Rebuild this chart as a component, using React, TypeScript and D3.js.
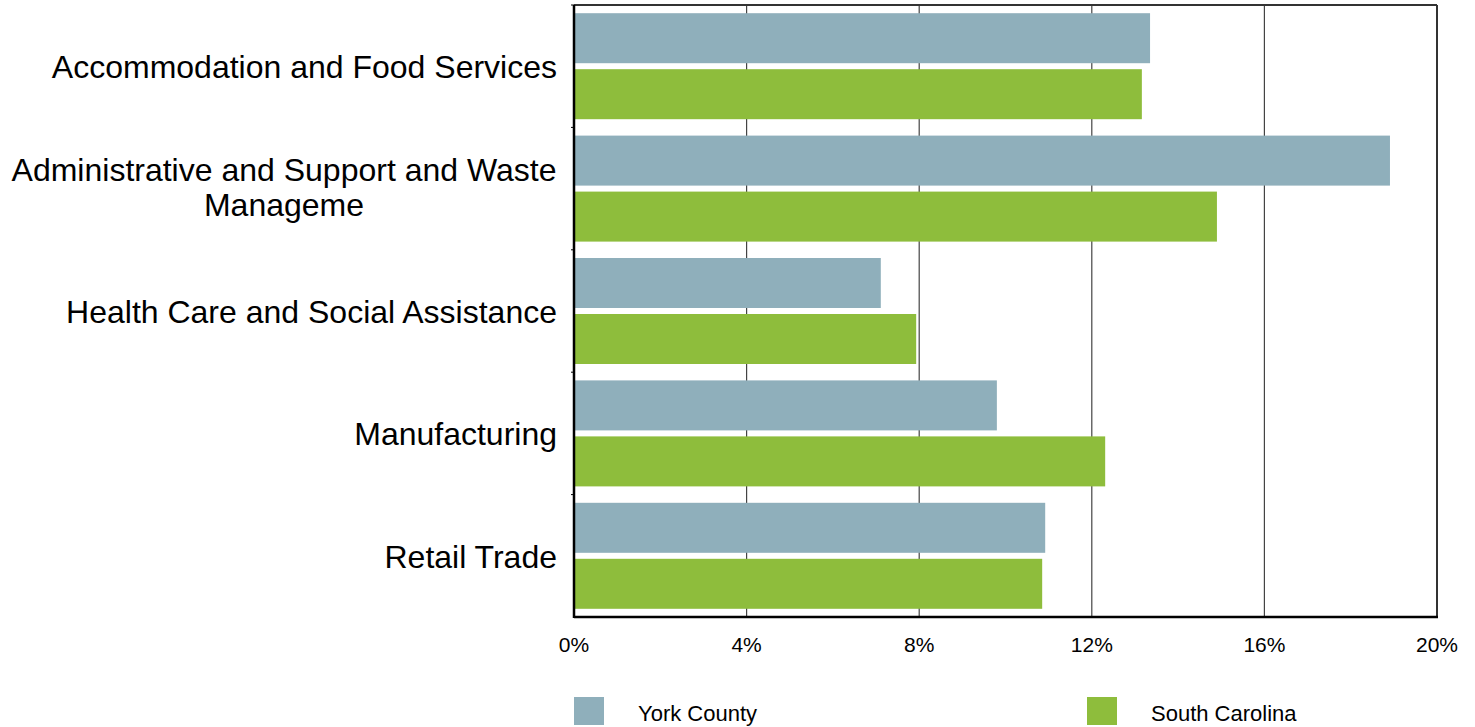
import React from "react";
import * as d3 from "d3";

const categories = [
  "Accommodation and Food Services",
  "Administrative and Support and Waste Manageme",
  "Health Care and Social Assistance",
  "Manufacturing",
  "Retail Trade",
];
const categoryLines = [
  ["Accommodation and Food Services"],
  ["Administrative and Support and Waste", "Manageme"],
  ["Health Care and Social Assistance"],
  ["Manufacturing"],
  ["Retail Trade"],
];
const seriesNames = ["York County", "South Carolina"];
const yorkCounty = [13.35, 18.91, 7.11, 9.8, 10.92];
const southCarolina = [13.16, 14.9, 7.93, 12.31, 10.85];
const xTicks = [0, 4, 8, 12, 16, 20];
const colors = ["#8FAFBB", "#8EBD3C"];

const W = 1475;
const H = 727;
const left = 574;
const right = 1437;
const top = 5;
const bottom = 617;
const FONT = "'Liberation Sans', Arial, Helvetica, sans-serif";

export default function App() {
  const x = d3.scaleLinear().domain([0, 20]).range([left, right]);
  const y0 = d3.scaleBand<string>().domain(categories).range([top, bottom]).padding(0);
  const inner = 8.2;
  const y1 = d3
    .scaleBand<string>()
    .domain(seriesNames)
    .range([inner, y0.bandwidth() - inner])
    .paddingInner(0.107)
    .paddingOuter(0);
  const values = [yorkCounty, southCarolina];
  const labelFont = 32;

  return (
    <svg
      width={W}
      height={H}
      style={{ position: "absolute", left: 0, top: 0, background: "#fff" }}
      fontFamily={FONT}
    >
      <rect x={0} y={0} width={W} height={H} fill="#fff" />
      {/* gridlines */}
      {xTicks.slice(1, -1).map((t) => (
        <line key={t} x1={x(t)} x2={x(t)} y1={top} y2={bottom} stroke="#444" strokeWidth={1.2} />
      ))}
      {/* bars */}
      {categories.map((c, i) => (
        <g key={c} transform={`translate(0,${y0(c)})`}>
          {seriesNames.map((s, j) => (
            <rect
              key={s}
              x={x(0)}
              y={y1(s)}
              width={x(values[j][i]) - x(0)}
              height={y1.bandwidth()}
              fill={colors[j]}
            />
          ))}
        </g>
      ))}
      {/* border */}
      <line x1={left} x2={right} y1={top} y2={top} stroke="#333" strokeWidth={2} />
      <line x1={right} x2={right} y1={top} y2={bottom} stroke="#333" strokeWidth={2} />
      <line x1={left} x2={left} y1={top} y2={bottom + 1} stroke="#000" strokeWidth={2.5} />
      <line x1={left} x2={right + 1} y1={bottom} y2={bottom} stroke="#000" strokeWidth={2.5} />
      {/* y ticks at band boundaries */}
      {categories.map((c) => (
        <line key={c} x1={left - 3} x2={left} y1={y0(c)!} y2={y0(c)!} stroke="#000" strokeWidth={1} />
      ))}
      {/* category labels */}
      {categories.map((c, i) => {
        const lines = categoryLines[i];
        const n = lines.length;
        const cy = (y0(c) as number) + y0.bandwidth() / 2;
        const lh = 35;
        const multiAdj = n > 1 ? -2 : 0;
        if (n === 1) {
          return (
            <text key={c} x={557} y={cy + 11.7} textAnchor="end" fontSize={labelFont} fill="#000">
              {lines[0]}
            </text>
          );
        }
        return (
          <text key={c} x={284} textAnchor="middle" fontSize={labelFont} fill="#000">
            {lines.map((l, k) => (
              <tspan key={k} x={284} y={cy + 11.7 + (k - (n - 1) / 2) * lh + multiAdj}>
                {l}
              </tspan>
            ))}
          </text>
        );
      })}
      {/* x tick labels */}
      {xTicks.map((t) => (
        <text key={t} x={x(t)} y={651.5} textAnchor="middle" fontSize={21} fill="#000">
          {t}%
        </text>
      ))}
      {/* legend */}
      {seriesNames.map((s, j) => {
        const lx = j === 0 ? 574 : 1087;
        return (
          <g key={s}>
            <rect x={lx} y={697} width={30} height={28} fill={colors[j]} />
            <text x={lx + 64} y={721} fontSize={22} fill="#000">
              {s}
            </text>
          </g>
        );
      })}
    </svg>
  );
}
